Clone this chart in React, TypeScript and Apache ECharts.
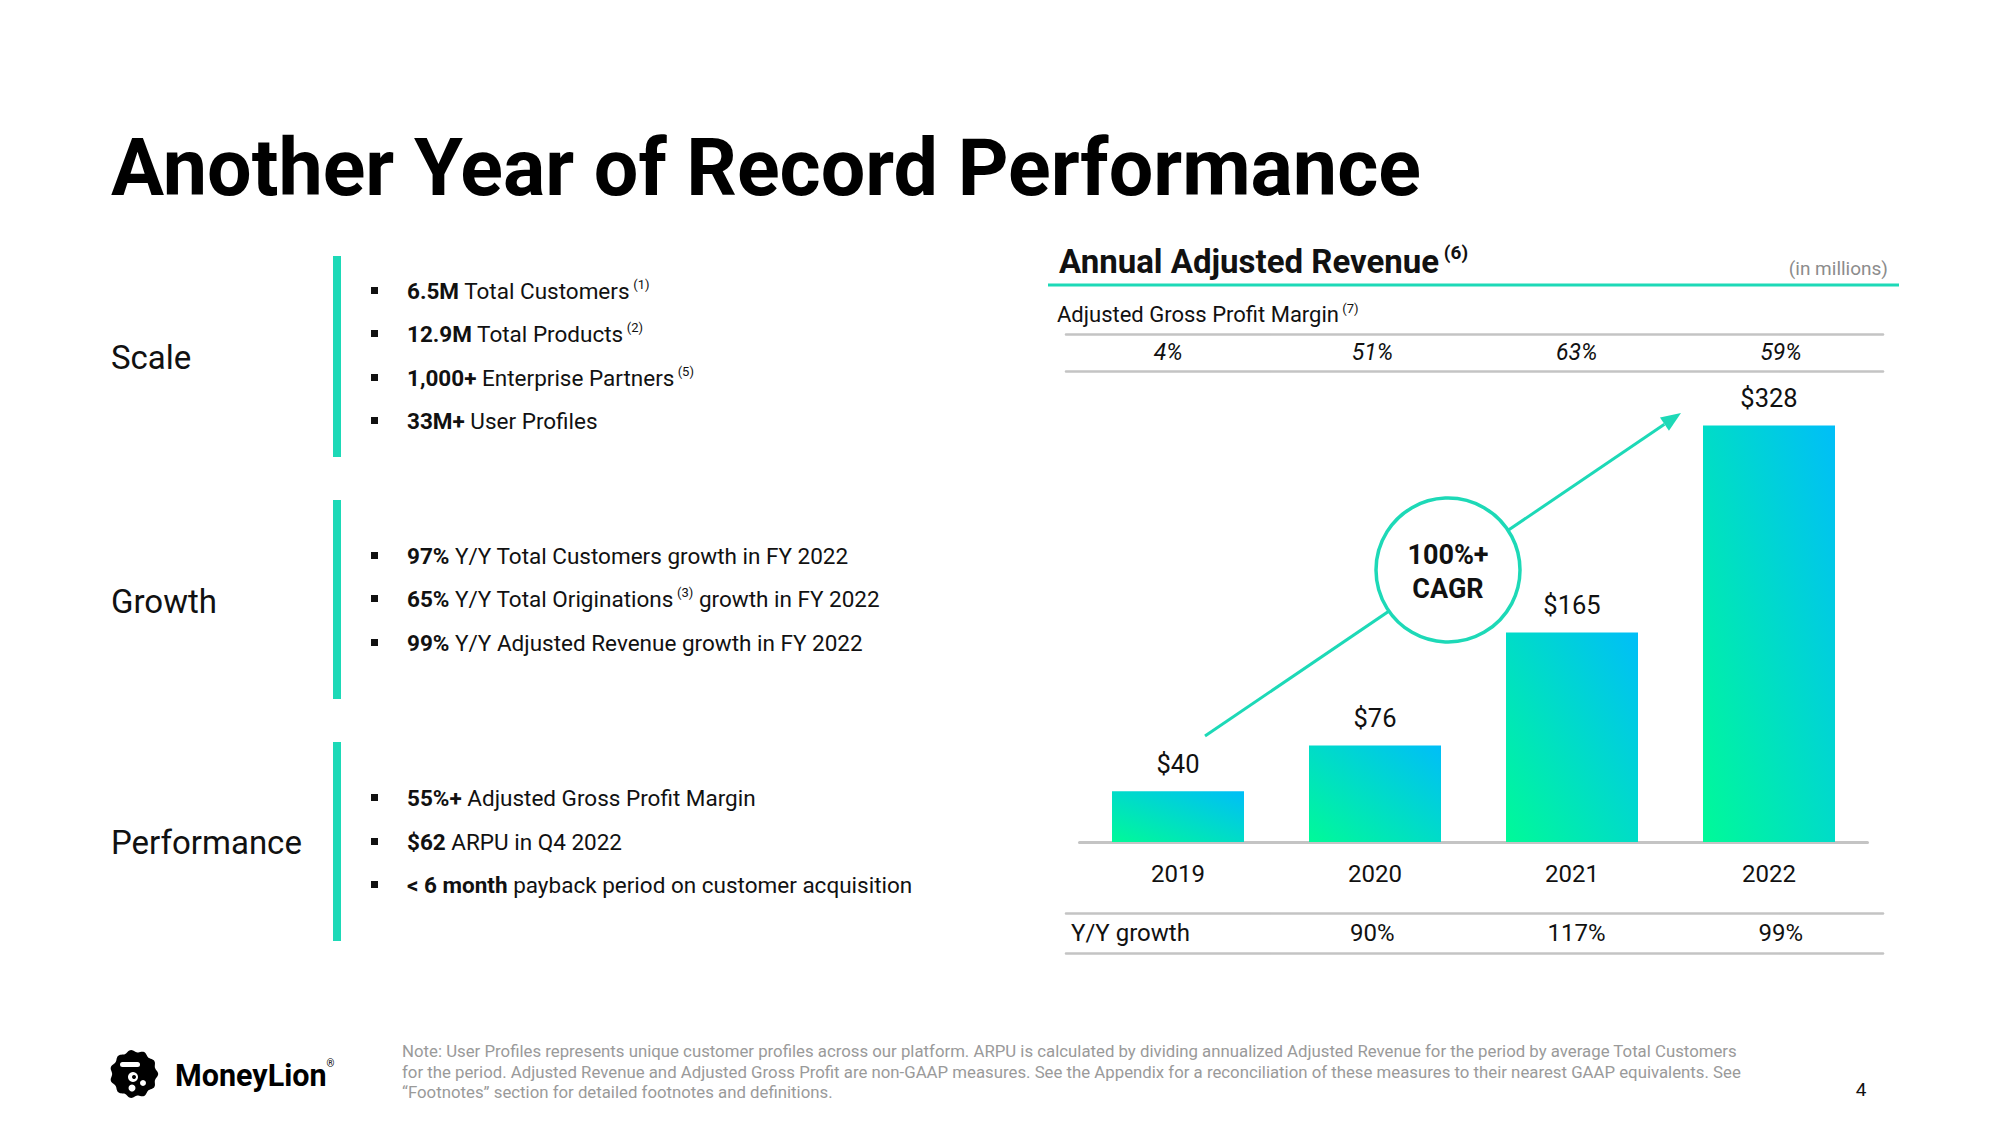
import React, { useEffect, useRef } from "react";
import * as echarts from "echarts";

const years = ["2019", "2020", "2021", "2022"];
const revenue = [40, 76, 165, 328];
const grossMargin = ["4%", "51%", "63%", "59%"];
const yoyGrowth = ["", "90%", "117%", "99%"];

const scaleItems = [
  ["6.5M", " Total Customers", " (1)"],
  ["12.9M", " Total Products", " (2)"],
  ["1,000+", " Enterprise Partners", " (5)"],
  ["33M+", " User Profiles", ""],
];
const growthItems = [
  ["97%", " Y/Y Total Customers growth in FY 2022"],
  ["65%", " Y/Y Total Originations", " (3)", " growth in FY 2022"],
  ["99%", " Y/Y Adjusted Revenue growth in FY 2022"],
];
const perfItems = [
  ["55%+", " Adjusted Gross Profit Margin"],
  ["$62", " ARPU in Q4 2022"],
  ["< 6 month", " payback period on customer acquisition"],
];
const noteLines = [
  "Note: User Profiles represents unique customer profiles across our platform. ARPU is calculated by dividing annualized Adjusted Revenue for the period by average Total Customers",
  "for the period. Adjusted Revenue and Adjusted Gross Profit are non-GAAP measures. See the Appendix for a reconciliation of these measures to their nearest GAAP equivalents. See",
  "\u201cFootnotes\u201d section for detailed footnotes and definitions.",
];

const FONT = "Roboto, 'Noto Sans', sans-serif";
const TEAL = "#1DD9B7";
const INK = "#111111";
const GRAY_LINE = "#c4c4c4";
const BODY = 22.5;

function bulletText(parts: string[]) {
  let s = `{b|${parts[0]}}{r|${parts[1]}}`;
  if (parts[2]) s += `{s|${parts[2]}}`;
  if (parts[3]) s += `{r|${parts[3]}}`;
  return s;
}

const richStyle = {
  b: { fontWeight: "bold", fontSize: BODY, fontFamily: FONT, fill: INK, lineHeight: 26 },
  r: { fontSize: BODY, fontFamily: FONT, fill: INK, lineHeight: 26 },
  s: { fontSize: 13, fontFamily: FONT, fill: INK, verticalAlign: "top", lineHeight: 14 },
};

function makeBullets(items: string[][], ys: number[]) {
  const els: any[] = [];
  items.forEach((it, i) => {
    els.push({
      type: "rect",
      shape: { x: 371, y: ys[i] - 4, width: 7, height: 7 },
      style: { fill: INK },
    });
    els.push({
      type: "text",
      x: 407,
      y: ys[i],
      style: {
        text: bulletText(it),
        rich: richStyle,
        verticalAlign: "middle",
        align: "left",
        fontFamily: FONT,
        fontSize: BODY,
        fill: INK,
      },
    });
  });
  return els;
}

function blobPoints(cx: number, cy: number, R: number) {
  const pts: number[][] = [];
  const n = 160;
  for (let i = 0; i < n; i++) {
    const t = (i / n) * Math.PI * 2;
    const r = R * (1 + 0.05 * Math.cos(11 * t));
    pts.push([cx + r * Math.cos(t), cy + r * Math.sin(t)]);
  }
  return pts;
}

export default function App() {
  const ref = useRef<HTMLDivElement>(null);
  useEffect(() => {
    if (!ref.current) return;
    const chart = echarts.init(ref.current, undefined, { renderer: "svg" });

    const barGradient = new echarts.graphic.LinearGradient(0, 1, 1, 0, [
      { offset: 0, color: "#00FA98" },
      { offset: 1, color: "#00BEF8" },
    ]);

    const ax0 = 1205, ay0 = 736, tipX = 1681, tipY = 413;
    const dx = tipX - ax0, dy = tipY - ay0;
    const len = Math.sqrt(dx * dx + dy * dy);
    const ux = dx / len, uy = dy / len;
    const bx = tipX - 20 * ux, by = tipY - 20 * uy;
    const nx = -uy, ny = ux;

    const graphic: any[] = [
      {
        type: "text",
        x: 111,
        y: 168,
        style: {
          text: "Another Year of Record Performance",
          fontFamily: FONT,
          fontWeight: "bold",
          fontSize: 79,
          fill: "#000",
          verticalAlign: "middle",
        },
      },
      ...[
        ["Scale", 357],
        ["Growth", 601],
        ["Performance", 842],
      ].map(([t, y]) => ({
        type: "text",
        x: 111,
        y: y as number,
        style: { text: t as string, fontFamily: FONT, fontSize: 33, fill: INK, verticalAlign: "middle" },
      })),
      { type: "rect", shape: { x: 333, y: 256, width: 8, height: 201 }, style: { fill: TEAL } },
      { type: "rect", shape: { x: 333, y: 500, width: 8, height: 199 }, style: { fill: TEAL } },
      { type: "rect", shape: { x: 333, y: 742, width: 8, height: 199 }, style: { fill: TEAL } },
      ...makeBullets(scaleItems, [291, 334, 378, 421]),
      ...makeBullets(growthItems, [556, 599, 643]),
      ...makeBullets(perfItems, [798, 842, 885]),
      {
        type: "text",
        x: 1059,
        y: 261,
        style: {
          text: "{t|Annual Adjusted Revenue}{s| (6)}",
          rich: {
            t: { fontFamily: FONT, fontWeight: "bold", fontSize: 33, fill: INK, lineHeight: 36 },
            s: { fontFamily: FONT, fontWeight: "bold", fontSize: 19, fill: INK, verticalAlign: "top", lineHeight: 19 },
          },
          verticalAlign: "middle",
        },
      },
      {
        type: "text",
        x: 1888,
        y: 268,
        style: { text: "(in millions)", fontFamily: FONT, fontSize: 19, fill: "#8c8c8c", align: "right", verticalAlign: "middle" },
      },
      { type: "line", shape: { x1: 1048, y1: 285, x2: 1899, y2: 285 }, style: { stroke: TEAL, lineWidth: 3 } },
      {
        type: "text",
        x: 1057,
        y: 314,
        style: {
          text: "{r|Adjusted Gross Profit Margin}{s| (7)}",
          rich: {
            r: { fontFamily: FONT, fontSize: 22, fill: INK, lineHeight: 25 },
            s: { fontFamily: FONT, fontSize: 13, fill: INK, verticalAlign: "top", lineHeight: 13 },
          },
          verticalAlign: "middle",
        },
      },
      {
        type: "text",
        x: 1071,
        y: 933,
        style: { text: "Y/Y growth", fontFamily: FONT, fontSize: 24, fill: INK, verticalAlign: "middle" },
      },
      { type: "line", z: 10, shape: { x1: ax0, y1: ay0, x2: bx, y2: by }, style: { stroke: TEAL, lineWidth: 3 } },
      {
        type: "polygon",
        z: 10,
        shape: { points: [[tipX, tipY], [bx + 8 * nx, by + 8 * ny], [bx - 8 * nx, by - 8 * ny]] },
        style: { fill: TEAL },
      },
      { type: "circle", z: 11, shape: { cx: 1448, cy: 570, r: 72 }, style: { fill: "#fff", stroke: TEAL, lineWidth: 3.5 } },
      {
        type: "text",
        z: 12,
        x: 1448,
        y: 555,
        style: { text: "100%+", fontFamily: FONT, fontWeight: "bold", fontSize: 27, fill: INK, align: "center", verticalAlign: "middle" },
      },
      {
        type: "text",
        z: 12,
        x: 1448,
        y: 589,
        style: { text: "CAGR", fontFamily: FONT, fontWeight: "bold", fontSize: 27, fill: INK, align: "center", verticalAlign: "middle" },
      },
      { type: "polygon", shape: { points: blobPoints(134, 1074, 23) }, style: { fill: "#000" } },
      { type: "rect", shape: { x: 120, y: 1062, width: 20, height: 5, r: 2.5 }, style: { fill: "#fff" } },
      { type: "circle", shape: { cx: 133, cy: 1077, r: 5 }, style: { fill: "#fff" } },
      { type: "circle", shape: { cx: 134, cy: 1077, r: 2 }, style: { fill: "#000" } },
      { type: "circle", shape: { cx: 143, cy: 1083, r: 3 }, style: { fill: "#fff" } },
      { type: "circle", shape: { cx: 132, cy: 1088, r: 3.5 }, style: { fill: "#fff" } },
      {
        type: "text",
        x: 175,
        y: 1075,
        style: {
          text: "{t|MoneyLion}{s|®}",
          rich: {
            t: { fontFamily: FONT, fontWeight: "bold", fontSize: 30.5, fill: "#000", lineHeight: 33 },
            s: { fontFamily: FONT, fontSize: 10, fill: "#000", verticalAlign: "top", lineHeight: 10 },
          },
          verticalAlign: "middle",
        },
      },
      ...noteLines.map((t, i) => ({
        type: "text",
        x: 402,
        y: 1051 + i * 20.5,
        style: { text: t, fontFamily: FONT, fontSize: 16.8, fill: "#9a9a9a", verticalAlign: "middle" },
      })),
      {
        type: "text",
        x: 1861,
        y: 1089,
        style: { text: "4", fontFamily: FONT, fontSize: 19, fill: INK, align: "center", verticalAlign: "middle" },
      },
    ];

    const tableLine = { onZero: false, lineStyle: { color: GRAY_LINE, width: 2.5 } };

    chart.setOption({
      animation: false,
      backgroundColor: "#fff",
      grid: [
        { left: 1079.5, width: 788, top: 334, height: 508 },
        { left: 1066, width: 817, top: 334, height: 37 },
        { left: 1066, width: 817, top: 913, height: 40 },
      ],
      xAxis: [
        {
          type: "category",
          gridIndex: 0,
          data: years,
          axisLine: { onZero: false, lineStyle: { color: GRAY_LINE, width: 3 } },
          axisTick: { show: false },
          axisLabel: { fontFamily: FONT, fontSize: 24, color: INK, margin: 20 },
        },
        {
          type: "category",
          gridIndex: 1,
          position: "top",
          data: grossMargin,
          axisLine: tableLine,
          axisTick: { show: false },
          axisLabel: {
            inside: true,
            margin: 18,
            verticalAlign: "middle",
            fontFamily: FONT,
            fontStyle: "italic",
            fontSize: 23,
            color: INK,
          },
        },
        {
          type: "category",
          gridIndex: 1,
          position: "bottom",
          data: grossMargin,
          axisLine: tableLine,
          axisTick: { show: false },
          axisLabel: { show: false },
        },
        {
          type: "category",
          gridIndex: 2,
          position: "top",
          data: yoyGrowth,
          axisLine: tableLine,
          axisTick: { show: false },
          axisLabel: {
            inside: true,
            margin: 20,
            verticalAlign: "middle",
            fontFamily: FONT,
            fontSize: 24,
            color: INK,
          },
        },
        {
          type: "category",
          gridIndex: 2,
          position: "bottom",
          data: yoyGrowth,
          axisLine: tableLine,
          axisTick: { show: false },
          axisLabel: { show: false },
        },
      ],
      yAxis: [
        { type: "value", gridIndex: 0, min: 0, max: 400, show: false },
        { type: "value", gridIndex: 1, min: 0, max: 1, show: false },
        { type: "value", gridIndex: 2, min: 0, max: 1, show: false },
      ],
      series: [
        {
          type: "bar",
          xAxisIndex: 0,
          yAxisIndex: 0,
          data: revenue,
          barWidth: 132,
          itemStyle: { color: barGradient },
          label: {
            show: true,
            position: "top",
            distance: 14,
            formatter: (p: any) => "$" + p.value,
            fontFamily: FONT,
            fontSize: 25.5,
            color: INK,
          },
        },
      ],
      graphic,
    });

    return () => chart.dispose();
  }, []);

  return (
    <div
      ref={ref}
      style={{ position: "absolute", left: 0, top: 0, width: 2000, height: 1125, background: "#fff" }}
    />
  );
}
